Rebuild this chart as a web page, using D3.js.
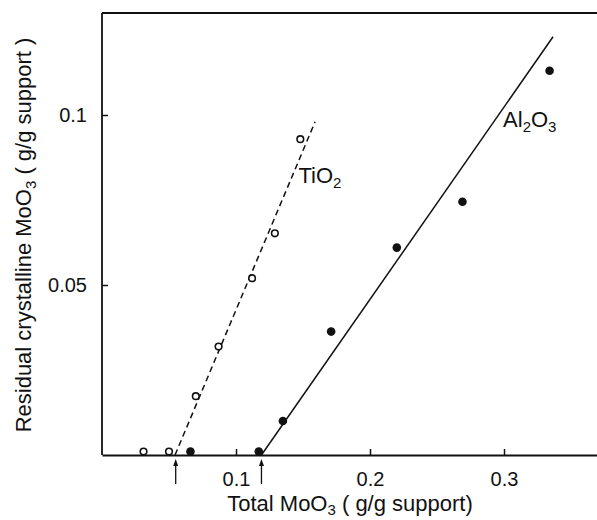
<!DOCTYPE html>
<html>
<head>
<meta charset="utf-8">
<script src="https://cdn.jsdelivr.net/npm/d3@7"></script>
<style>
  html, body { margin: 0; padding: 0; background: #fff; }
  svg { display: block; }
  text { font-family: "Liberation Sans", Arial, Helvetica, sans-serif; fill: #111; }
</style>
</head>
<body>
<svg id="chart" width="597" height="520"></svg>
<script>
// ---- data ----
const tio2X = [0.031, 0.050, 0.070, 0.087, 0.112, 0.129, 0.148];
const tio2Y = [0.001, 0.001, 0.0173, 0.0319, 0.052, 0.0652, 0.0929];
const al2o3X = [0.066, 0.117, 0.135, 0.171, 0.220, 0.269, 0.334];
const al2o3Y = [0.001, 0.001, 0.010, 0.0363, 0.061, 0.0745, 0.113];
const tio2FitX = [0.0545, 0.159];
const tio2FitY = [0.0, 0.098];
const al2o3FitX = [0.119, 0.3366];
const al2o3FitY = [0.0, 0.123];
const arrowX = [0.055, 0.119];
const xTicks = [0.1, 0.2, 0.3];
const yTicks = [0.05, 0.1];
const xTickLabels = ["0.1", "0.2", "0.3"];
const yTickLabels = ["0.05", "0.1"];

// ---- layout ----
const svg = d3.select("#chart");
const mLeft = 102, mRight = 597, mTop = 13, mBottom = 455;
const x = d3.scaleLinear().domain([0, 0.3694]).range([mLeft, mRight]);
const y = d3.scaleLinear().domain([0, 0.13]).range([mBottom, mTop]);

// frame top line
svg.append("line").attr("x1", mLeft).attr("x2", mRight).attr("y1", mTop).attr("y2", mTop)
  .attr("stroke", "#111").attr("stroke-width", 1.8);

// axes
const xAxis = d3.axisBottom(x).tickValues(xTicks)
  .tickFormat((d, i) => xTickLabels[i]).tickSizeInner(-6).tickSizeOuter(0).tickPadding(17);
const gx = svg.append("g").attr("transform", `translate(0,${mBottom})`).call(xAxis);
const yAxis = d3.axisLeft(y).tickValues(yTicks)
  .tickFormat((d, i) => yTickLabels[i]).tickSizeInner(-6).tickSizeOuter(0).tickPadding(15);
const gy = svg.append("g").attr("transform", `translate(${mLeft},0)`).call(yAxis);
[gx, gy].forEach(g => {
  g.select(".domain").attr("stroke", "#111").attr("stroke-width", 1.8);
  g.selectAll(".tick line").attr("stroke", "#111").attr("stroke-width", 1.5);
  g.selectAll(".tick text").attr("font-size", 20).attr("fill", "#111")
    .style("font-family", '"Liberation Sans", Arial, sans-serif');
});
gy.select(".domain").attr("d", `M0,${mBottom}V${mTop}`);

// fit lines
const line = d3.line().x(d => x(d[0])).y(d => y(d[1]));
svg.append("path").datum(d3.zip(tio2FitX, tio2FitY)).attr("d", line)
  .attr("fill", "none").attr("stroke", "#111").attr("stroke-width", 1.5)
  .attr("stroke-dasharray", "6,4");
svg.append("path").datum(d3.zip(al2o3FitX, al2o3FitY)).attr("d", line)
  .attr("fill", "none").attr("stroke", "#111").attr("stroke-width", 1.5);

// points
svg.append("g").selectAll("circle").data(d3.zip(tio2X, tio2Y)).join("circle")
  .attr("cx", d => x(d[0])).attr("cy", d => y(d[1])).attr("r", 3.3)
  .attr("fill", "#fff").attr("stroke", "#111").attr("stroke-width", 1.6);
svg.append("g").selectAll("circle").data(d3.zip(al2o3X, al2o3Y)).join("circle")
  .attr("cx", d => x(d[0])).attr("cy", d => y(d[1])).attr("r", 4.3)
  .attr("fill", "#111");

// arrows below axis
const ag = svg.append("g");
arrowX.forEach(v => {
  const cx = x(v);
  ag.append("line").attr("x1", cx).attr("x2", cx).attr("y1", mBottom + 9).attr("y2", mBottom + 29)
    .attr("stroke", "#111").attr("stroke-width", 1.3);
  ag.append("path").attr("d", `M${cx},${mBottom + 4}L${cx - 2.5},${mBottom + 11}L${cx + 2.5},${mBottom + 11}Z`)
    .attr("fill", "#111");
});

// series labels
function subLabel(px, py, parts) {
  const t = svg.append("text").attr("x", px).attr("y", py).attr("font-size", 22);
  parts.forEach(p => {
    if (p.sub) {
      t.append("tspan").attr("font-size", 15).attr("dy", 5).text(p.t);
    } else {
      t.append("tspan").attr("dy", p.after ? -5 : 0).text(p.t);
    }
  });
  return t;
}
subLabel(x(0.1466), y(0.080), [{t: "TiO"}, {t: "2", sub: true}]);
subLabel(x(0.2993), y(0.0965), [{t: "Al"}, {t: "2", sub: true}, {t: "O", after: true}, {t: "3", sub: true}]);

// axis titles
const xt = svg.append("text").attr("x", 350).attr("y", 511).attr("font-size", 22)
  .attr("text-anchor", "middle");
xt.append("tspan").text("Total MoO");
xt.append("tspan").attr("font-size", 15).attr("dy", 4).text("3");
xt.append("tspan").attr("dy", -4).text(" ( g/g support)");

const yt = svg.append("text").attr("transform", "translate(31,235) rotate(-90)")
  .attr("font-size", 22).attr("text-anchor", "middle");
yt.append("tspan").text("Residual crystalline MoO");
yt.append("tspan").attr("font-size", 15).attr("dy", 5).text("3");
yt.append("tspan").attr("dy", -5).text(" ( g/g support )");
</script>
</body>
</html>
